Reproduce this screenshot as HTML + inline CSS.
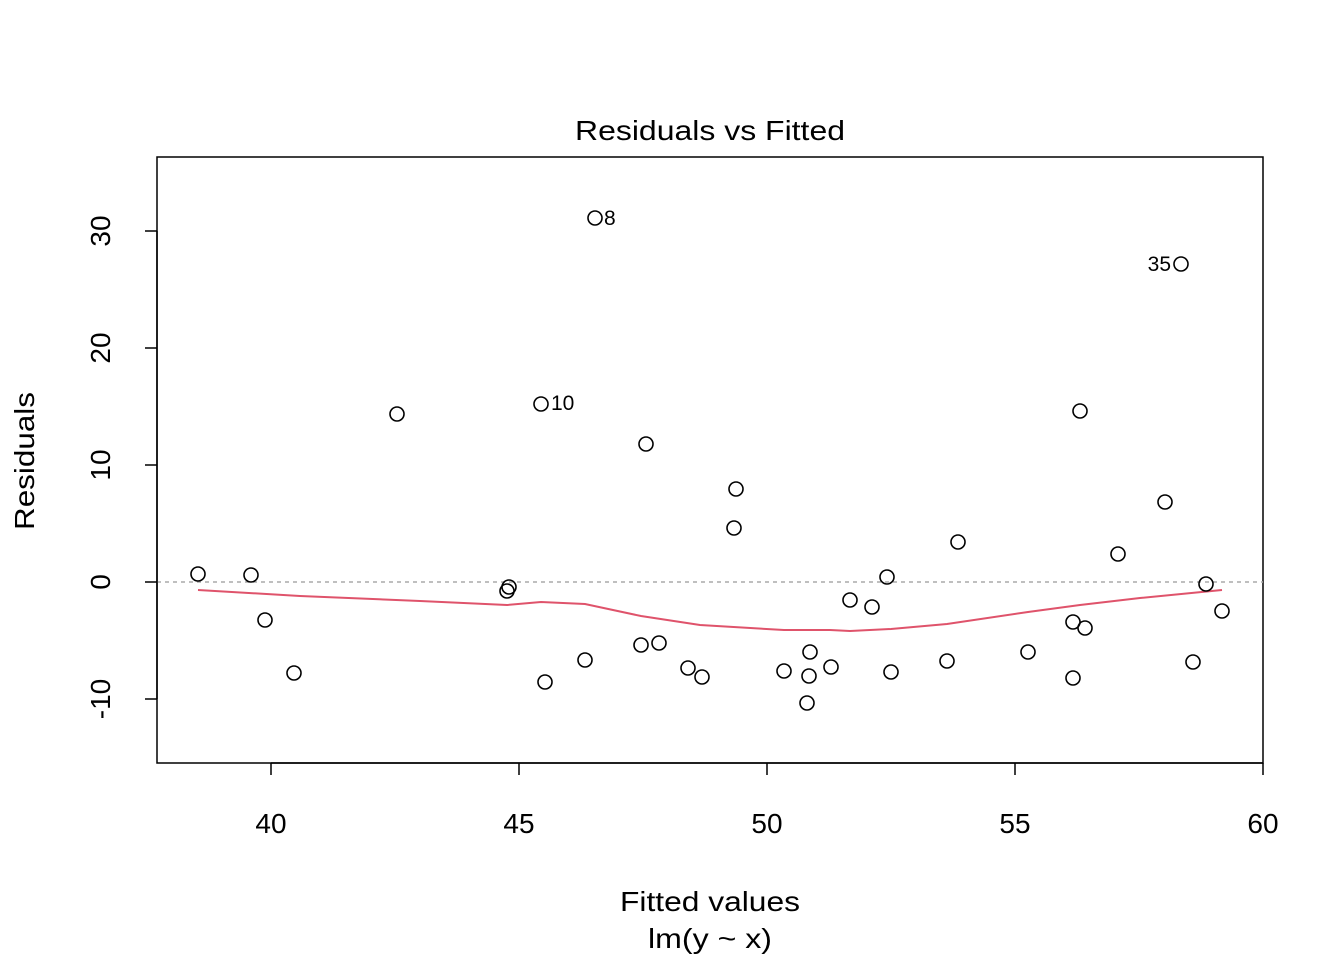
<!DOCTYPE html>
<html><head><meta charset="utf-8"><style>body{margin:0;background:#fff}</style></head><body>
<svg width="1344" height="960" xmlns="http://www.w3.org/2000/svg" font-family="Liberation Sans, Arial, sans-serif">
<rect width="1344" height="960" fill="#fff"/>
<text x="710" y="140" font-size="28" text-anchor="middle" textLength="270" lengthAdjust="spacingAndGlyphs">Residuals vs Fitted</text>
<rect x="157" y="157" width="1106" height="606" fill="none" stroke="#000" stroke-width="1.5"/>
<line x1="157" y1="582" x2="1263" y2="582" stroke="#aaa" stroke-width="1.5" stroke-dasharray="4,4"/>
<g stroke="#000" stroke-width="1.5">
<line x1="271" y1="763" x2="1263" y2="763"/>
<line x1="271" y1="763" x2="271" y2="775"/><line x1="519" y1="763" x2="519" y2="775"/><line x1="767" y1="763" x2="767" y2="775"/><line x1="1015" y1="763" x2="1015" y2="775"/><line x1="1263" y1="763" x2="1263" y2="775"/>
<line x1="157" y1="231" x2="157" y2="699"/>
<line x1="145" y1="231" x2="157" y2="231"/><line x1="145" y1="348" x2="157" y2="348"/><line x1="145" y1="465" x2="157" y2="465"/><line x1="145" y1="582" x2="157" y2="582"/><line x1="145" y1="699" x2="157" y2="699"/>
</g>
<g font-size="28" text-anchor="middle">
<text x="271" y="833">40</text><text x="519" y="833">45</text><text x="767" y="833">50</text><text x="1015" y="833">55</text><text x="1263" y="833">60</text>
<text transform="translate(110,231) rotate(-90)">30</text>
<text transform="translate(110,348) rotate(-90)">20</text>
<text transform="translate(110,465) rotate(-90)">10</text>
<text transform="translate(110,582) rotate(-90)">0</text>
<text transform="translate(110,699) rotate(-90)">-10</text>
<text x="710" y="911" textLength="180" lengthAdjust="spacingAndGlyphs">Fitted values</text>
<text x="710" y="948" textLength="124" lengthAdjust="spacingAndGlyphs">lm(y ~ x)</text>
<text transform="translate(34,461) rotate(-90)" textLength="138" lengthAdjust="spacingAndGlyphs">Residuals</text>
</g>
<polyline fill="none" stroke="#DF536B" stroke-width="2" points="198,590 300,596 420,601 507,605 541,602 585,604 641,616 700,625 784,630 830,630 850,631 891,629 947,624 1028,612 1080,605 1140,598 1222,590"/>
<g fill="none" stroke="#000" stroke-width="1.6">
<circle cx="198" cy="574" r="7"/><circle cx="251" cy="575" r="7"/><circle cx="265" cy="620" r="7"/><circle cx="294" cy="673" r="7"/><circle cx="397" cy="414" r="7"/><circle cx="507" cy="591" r="7"/><circle cx="509" cy="587" r="7"/><circle cx="541" cy="404" r="7"/><circle cx="545" cy="682" r="7"/><circle cx="585" cy="660" r="7"/><circle cx="595" cy="218" r="7"/><circle cx="641" cy="645" r="7"/><circle cx="646" cy="444" r="7"/><circle cx="659" cy="643" r="7"/><circle cx="688" cy="668" r="7"/><circle cx="702" cy="677" r="7"/><circle cx="734" cy="528" r="7"/><circle cx="736" cy="489" r="7"/><circle cx="784" cy="671" r="7"/><circle cx="807" cy="703" r="7"/><circle cx="809" cy="676" r="7"/><circle cx="810" cy="652" r="7"/><circle cx="831" cy="667" r="7"/><circle cx="850" cy="600" r="7"/><circle cx="872" cy="607" r="7"/><circle cx="887" cy="577" r="7"/><circle cx="891" cy="672" r="7"/><circle cx="947" cy="661" r="7"/><circle cx="958" cy="542" r="7"/><circle cx="1028" cy="652" r="7"/><circle cx="1073" cy="622" r="7"/><circle cx="1073" cy="678" r="7"/><circle cx="1080" cy="411" r="7"/><circle cx="1085" cy="628" r="7"/><circle cx="1118" cy="554" r="7"/><circle cx="1165" cy="502" r="7"/><circle cx="1181" cy="264" r="7"/><circle cx="1193" cy="662" r="7"/><circle cx="1206" cy="584" r="7"/><circle cx="1222" cy="611" r="7"/>
</g>
<g font-size="21">
<text x="604" y="225">8</text>
<text x="551" y="410">10</text>
<text x="1171" y="271" text-anchor="end">35</text>
</g>
</svg>
</body></html>
